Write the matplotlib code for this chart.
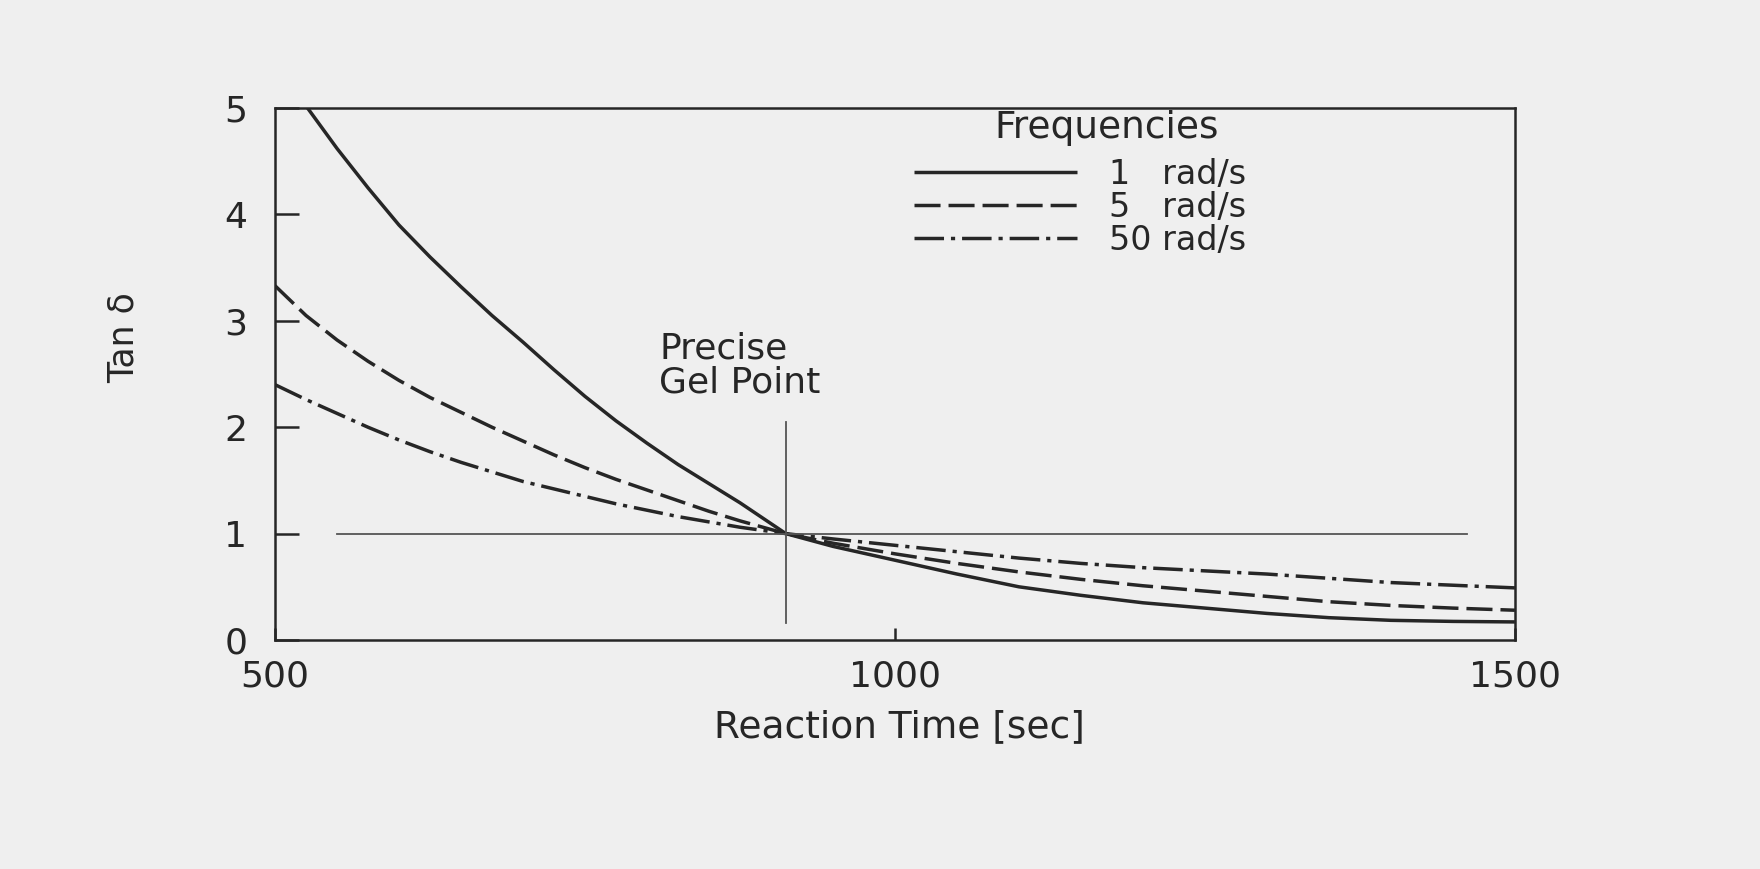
import matplotlib
matplotlib.use("Agg")
import matplotlib.pyplot as plt

plt.rcParams['font.family'] = ['DejaVu Sans']

# ---- data ----
time_s = [500, 525, 550, 575, 600, 625, 650, 675, 700, 725, 750, 775, 800,
          825, 850, 875, 912, 950, 1000, 1050, 1100, 1150, 1200, 1250,
          1300, 1350, 1400, 1450, 1500]
tan_1 = [5.30, 5.02, 4.62, 4.25, 3.90, 3.60, 3.32, 3.05, 2.80, 2.54, 2.29,
         2.06, 1.85, 1.65, 1.47, 1.29, 1.00, 0.88, 0.75, 0.62, 0.50, 0.42,
         0.35, 0.30, 0.25, 0.21, 0.185, 0.175, 0.17]
tan_5 = [3.33, 3.05, 2.82, 2.62, 2.44, 2.28, 2.14, 2.00, 1.87, 1.74, 1.62,
         1.51, 1.41, 1.31, 1.21, 1.12, 1.00, 0.91, 0.81, 0.72, 0.64, 0.57,
         0.51, 0.46, 0.41, 0.36, 0.325, 0.30, 0.28]
tan_50 = [2.40, 2.26, 2.13, 2.00, 1.88, 1.77, 1.67, 1.58, 1.49, 1.42, 1.35,
          1.28, 1.22, 1.16, 1.11, 1.06, 1.00, 0.95, 0.89, 0.83, 0.77, 0.72,
          0.68, 0.65, 0.62, 0.58, 0.54, 0.515, 0.49]
series_labels = ['1   rad/s', '5   rad/s', '50 rad/s']
legend_title = 'Frequencies'
gel_time = 912
gel_vline = [0.16, 2.05]
ref_hline_x = [550, 1461]
xticks = [500, 1000, 1500]
yticks = [0, 1, 2, 3, 4, 5]

bg = '#efefef'
ink = '#262626'
thin = '#555555'

fig = plt.figure(figsize=(17.6, 8.69), dpi=100, facecolor=bg)
ax = fig.add_axes([0.15625, 0.2635, 0.7045, 0.6122], facecolor=bg)

lw = 2.5
l1, = ax.plot(time_s, tan_1, color=ink, lw=lw, solid_capstyle='butt',
              solid_joinstyle='round')
l5, = ax.plot(time_s, tan_5, color=ink, lw=lw, dashes=(7.5, 2.3))
l50, = ax.plot(time_s, tan_50, color=ink, lw=lw, dashes=(8.5, 2.0, 1.2, 2.0))

# reference lines at the gel point
ax.plot(ref_hline_x, [1, 1], color=thin, lw=1.3)
ax.plot([gel_time, gel_time], gel_vline, color=thin, lw=1.3)

ax.text(810, 2.58, 'Precise\nGel Point', ha='left', va='center',
        fontsize=26, color=ink, linespacing=1.0)

ax.set_xlim(500, 1500)
ax.set_ylim(0, 5)
ax.set_xticks(xticks)
ax.set_yticks(yticks)
ax.set_xticklabels([str(t) for t in xticks])
ax.set_yticklabels([str(t) for t in yticks])

for s in ax.spines.values():
    s.set_color(ink)
    s.set_linewidth(1.8)

ax.tick_params(axis='y', direction='in', length=17, width=1.8, pad=20,
               labelsize=26, colors=ink, left=True, right=False)
ax.tick_params(axis='x', direction='in', length=9, width=1.8, pad=14,
               labelsize=26, colors=ink, bottom=True, top=False)

ax.set_xlabel('Reaction Time [sec]', fontsize=27, color=ink)
ax.xaxis.set_label_coords(0.504, -0.13)
ax.set_ylabel('Tan δ', fontsize=25, color=ink)
ax.yaxis.set_label_coords(-0.108, 0.568)

leg = ax.legend([l1, l5, l50], series_labels,
                loc='upper left', bbox_to_anchor=(0.515, 0.906),
                frameon=False, fontsize=24,
                handlelength=4.9, handletextpad=0.95, labelspacing=0.0,
                borderpad=0, borderaxespad=0)
for t in leg.get_texts():
    t.set_color(ink)
ax.text(0.671, 0.962, legend_title, transform=ax.transAxes, ha='center',
        va='center', fontsize=27, color=ink)

fig.savefig('out.png', dpi=100, facecolor=bg)
